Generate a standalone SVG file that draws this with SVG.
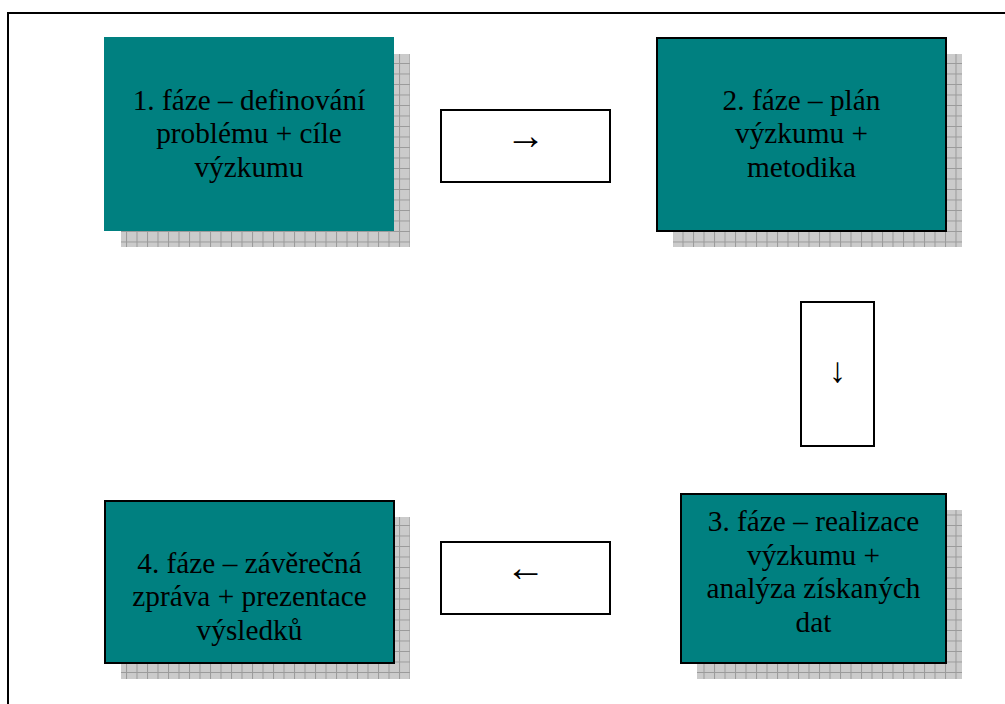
<svg xmlns="http://www.w3.org/2000/svg" width="1005" height="704" viewBox="0 0 1005 704">
<defs>
<pattern id="grid" x="0" y="0" width="10.5" height="10.5" patternUnits="userSpaceOnUse">
<rect width="10.5" height="10.5" fill="#cbcbcb"/>
<path d="M0 0.5H10.5M0.5 0V10.5" stroke="#9a9a9a" stroke-width="1" fill="none"/>
</pattern>
</defs>
<style>
.shadow{fill:url(#grid)}
.phase{fill:#008080;stroke:#000;stroke-width:2}
.phase.nb{stroke:none}
.abox{fill:#fff;stroke:#000;stroke-width:2}
text{font-family:"Liberation Serif","Times New Roman",serif;font-size:29.3px;fill:#000;text-anchor:middle}
text.arr{font-size:40px}
text.arrv{font-size:35px}
</style>
<rect width="1005" height="704" fill="#fff"/>
<rect x="8" y="13" width="1010" height="710" fill="none" stroke="#000" stroke-width="2"/>

<g id="phase1">
<rect class="shadow" x="121" y="54" width="289" height="193"/>
<rect class="phase nb" x="104" y="37" width="290" height="194"/>
<text x="249" y="109.5">1. fáze – definování</text>
<text x="249" y="143">problému + cíle</text>
<text x="249" y="176.5">výzkumu</text>
</g>

<g id="phase2">
<rect class="shadow" x="673" y="54" width="289" height="193"/>
<rect class="phase" x="657" y="38" width="289" height="193"/>
<text x="801.5" y="109.5">2. fáze – plán</text>
<text x="801.5" y="143">výzkumu +</text>
<text x="801.5" y="176.5">metodika</text>
</g>

<g id="phase3">
<rect class="shadow" x="697" y="510" width="265" height="169"/>
<rect class="phase" x="681" y="494" width="265" height="169"/>
<text x="813.5" y="531">3. fáze – realizace</text>
<text x="813.5" y="564.5">výzkumu +</text>
<text x="813.5" y="598">analýza získaných</text>
<text x="813.5" y="632">dat</text>
</g>

<g id="phase4">
<rect class="shadow" x="121" y="517" width="289" height="162"/>
<rect class="phase" x="105" y="501" width="289" height="162"/>
<text x="249.5" y="572.5">4. fáze – závěrečná</text>
<text x="249.5" y="606">zpráva + prezentace</text>
<text x="249.5" y="639.5">výsledků</text>
</g>

<g id="connectors">
<g id="arrow12">
<rect class="abox" x="441" y="110" width="169" height="72"/>
<text class="arr" x="525.5" y="149">→</text>
</g>
<g id="arrow23">
<rect class="abox" x="801" y="302" width="73" height="144"/>
<text class="arrv" x="837.5" y="381.5">↓</text>
</g>
<g id="arrow34">
<rect class="abox" x="441" y="542" width="169" height="72"/>
<text class="arr" x="525.5" y="581">←</text>
</g>
</g>
</svg>
